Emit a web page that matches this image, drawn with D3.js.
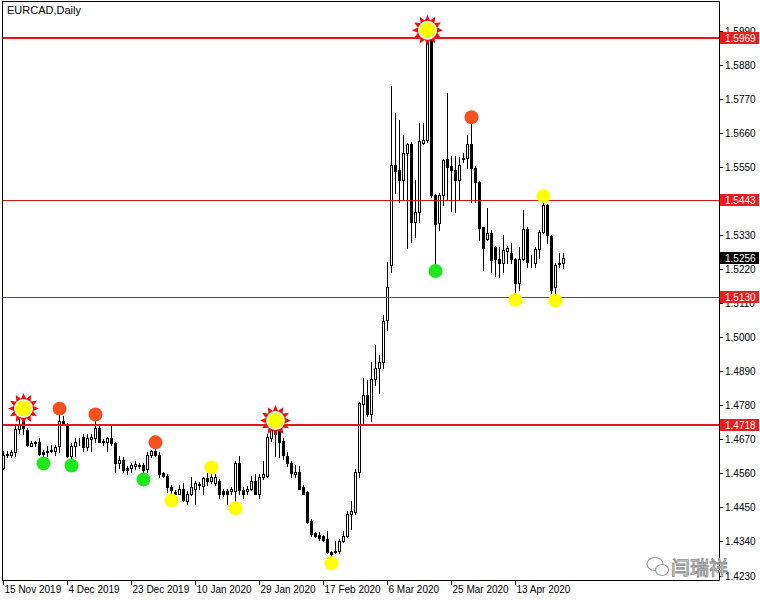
<!DOCTYPE html>
<html>
<head>
<meta charset="utf-8">
<script src="https://cdn.jsdelivr.net/npm/d3@7"></script>
<style>
  body { margin: 0; background: #fff; }
  svg { display: block; font-family: "Liberation Sans", Arial, sans-serif; }
</style>
</head>
<body>
<div id="chart"></div>
<script>
const symbolTitle = 'EURCAD,Daily';

// daily bars (index 0 = 15 Nov 2019)
const opens = [
  1.4579,1.4621,1.4618,1.4628,1.4702,1.4734,1.4699,1.4650,1.4660,1.4660,
  1.4628,1.4628,1.4631,1.4634,1.4647,1.4731,1.4718,1.4615,1.4647,1.4663,
  1.4679,1.4644,1.4670,1.4673,1.4708,1.4666,1.4663,1.4676,1.4657,1.4595,
  1.4602,1.4579,1.4576,1.4583,1.4586,1.4586,1.4573,1.4621,1.4631,1.4621,
  1.4560,1.4553,1.4515,1.4499,1.4495,1.4511,1.4470,1.4492,1.4511,1.4524,
  1.4518,1.4544,1.4534,1.4528,1.4534,1.4502,1.4502,1.4502,1.4502,1.4595,
  1.4505,1.4502,1.4511,1.4537,1.4495,1.4547,1.4553,1.4676,1.4686,1.4708,
  1.4666,1.4615,1.4595,1.4557,1.4566,1.4515,1.4499,1.4405,1.4366,1.4360,
  1.4357,1.4347,1.4305,1.4305,1.4308,1.4341,1.4357,1.4428,1.4434,1.4566,
  1.4783,1.4815,1.4753,1.4866,1.4902,1.4921,1.5057,1.5234,1.5557,1.5541,
  1.5508,1.5595,1.5624,1.5373,1.5405,1.5628,1.5637,1.5960,1.5460,1.5370,
  1.5460,1.5576,1.5553,1.5541,1.5508,1.5579,1.5579,1.5624,1.5547,1.5502,
  1.5357,1.5318,1.5337,1.5292,1.5253,1.5241,1.5279,1.5273,1.5253,1.5176,
  1.5253,1.5350,1.5247,1.5241,1.5286,1.5341,1.5428,1.5328,1.5163,1.5241,
  1.5241
];
const highs = [
  1.4631,1.4631,1.4637,1.4718,1.4750,1.4760,1.4708,1.4666,1.4666,1.4676,
  1.4637,1.4647,1.4653,1.4653,1.4750,1.4747,1.4724,1.4657,1.4676,1.4673,
  1.4686,1.4686,1.4686,1.4731,1.4715,1.4670,1.4679,1.4718,1.4660,1.4615,
  1.4612,1.4583,1.4595,1.4599,1.4595,1.4595,1.4628,1.4637,1.4641,1.4628,
  1.4566,1.4557,1.4521,1.4505,1.4524,1.4528,1.4502,1.4547,1.4534,1.4531,
  1.4550,1.4563,1.4560,1.4557,1.4541,1.4508,1.4508,1.4515,1.4599,1.4615,
  1.4515,1.4518,1.4553,1.4557,1.4557,1.4599,1.4686,1.4718,1.4721,1.4715,
  1.4676,1.4628,1.4599,1.4586,1.4583,1.4521,1.4502,1.4412,1.4370,1.4370,
  1.4360,1.4373,1.4308,1.4341,1.4347,1.4373,1.4437,1.4470,1.4573,1.4792,
  1.4870,1.4863,1.4921,1.4976,1.4944,1.5073,1.5244,1.5812,1.5724,1.5702,
  1.5653,1.5628,1.5631,1.5508,1.5692,1.5692,1.5983,1.5966,1.5463,1.5466,
  1.5576,1.5789,1.5586,1.5586,1.5582,1.5595,1.5653,1.5692,1.5553,1.5505,
  1.5357,1.5418,1.5347,1.5295,1.5292,1.5331,1.5295,1.5305,1.5256,1.5292,
  1.5412,1.5357,1.5266,1.5292,1.5347,1.5437,1.5431,1.5331,1.5241,1.5273,
  1.5273
];
const lows = [
  1.4573,1.4612,1.4612,1.4615,1.4689,1.4686,1.4647,1.4647,1.4650,1.4621,
  1.4615,1.4615,1.4628,1.4621,1.4628,1.4715,1.4612,1.4608,1.4615,1.4653,
  1.4631,1.4637,1.4631,1.4663,1.4660,1.4653,1.4631,1.4653,1.4566,1.4579,
  1.4566,1.4557,1.4566,1.4573,1.4576,1.4563,1.4566,1.4612,1.4615,1.4547,
  1.4547,1.4499,1.4495,1.4489,1.4492,1.4470,1.4460,1.4489,1.4460,1.4508,
  1.4495,1.4521,1.4528,1.4524,1.4479,1.4486,1.4460,1.4492,1.4470,1.4492,
  1.4479,1.4492,1.4505,1.4492,1.4479,1.4541,1.4550,1.4666,1.4615,1.4612,
  1.4605,1.4583,1.4550,1.4550,1.4508,1.4492,1.4399,1.4357,1.4353,1.4344,
  1.4341,1.4302,1.4292,1.4302,1.4302,1.4337,1.4353,1.4379,1.4428,1.4547,
  1.4724,1.4747,1.4731,1.4847,1.4821,1.4902,1.5024,1.5212,1.5466,1.5437,
  1.5444,1.5289,1.5308,1.5324,1.5373,1.5624,1.5631,1.5453,1.5237,1.5347,
  1.5428,1.5444,1.5408,1.5405,1.5444,1.5566,1.5547,1.5437,1.5437,1.5315,
  1.5218,1.5315,1.5212,1.5199,1.5195,1.5212,1.5241,1.5241,1.5144,1.5153,
  1.5250,1.5228,1.5228,1.5228,1.5257,1.5337,1.5305,1.5144,1.5141,1.5228,
  1.5224
];
const closes = [
  1.4621,1.4624,1.4628,1.4705,1.4721,1.4708,1.4653,1.4657,1.4657,1.4624,
  1.4624,1.4631,1.4637,1.4644,1.4728,1.4721,1.4615,1.4647,1.4663,1.4660,
  1.4644,1.4676,1.4679,1.4708,1.4663,1.4660,1.4676,1.4657,1.4595,1.4602,
  1.4570,1.4570,1.4586,1.4592,1.4584,1.4570,1.4621,1.4631,1.4621,1.4557,
  1.4553,1.4515,1.4505,1.4492,1.4511,1.4473,1.4495,1.4515,1.4528,1.4526,
  1.4544,1.4537,1.4547,1.4547,1.4495,1.4495,1.4495,1.4508,1.4595,1.4505,
  1.4495,1.4511,1.4537,1.4495,1.4547,1.4557,1.4679,1.4708,1.4712,1.4663,
  1.4618,1.4595,1.4560,1.4566,1.4511,1.4495,1.4402,1.4363,1.4357,1.4350,
  1.4344,1.4305,1.4299,1.4308,1.4341,1.4357,1.4428,1.4437,1.4563,1.4786,
  1.4815,1.4753,1.4866,1.4902,1.4921,1.5053,1.5163,1.5557,1.5537,1.5508,
  1.5595,1.5624,1.5373,1.5405,1.5634,1.5637,1.5960,1.5460,1.5366,1.5460,
  1.5573,1.5550,1.5541,1.5508,1.5557,1.5577,1.5624,1.5547,1.5502,1.5353,
  1.5289,1.5337,1.5250,1.5253,1.5241,1.5283,1.5289,1.5253,1.5176,1.5253,
  1.5350,1.5244,1.5245,1.5286,1.5341,1.5428,1.5331,1.5153,1.5234,1.5237,
  1.5256
];

// time axis labels and the bar each one sits on
const dateLabels = ['15 Nov 2019', '4 Dec 2019', '23 Dec 2019', '10 Jan 2020', '29 Jan 2020',
  '17 Feb 2020', '6 Mar 2020', '25 Mar 2020', '13 Apr 2020'];
const dateLabelBars = [0, 16, 32, 48, 64, 80, 96, 112, 128];

const priceTicks = [1.4230, 1.4340, 1.4450, 1.4560, 1.4670, 1.4780, 1.4890, 1.5000,
  1.5110, 1.5220, 1.5330, 1.5440, 1.5550, 1.5660, 1.5770, 1.5880, 1.5990];

// horizontal levels
const majorLevels = [1.5969, 1.4718];
const minorLevels = [1.5443, 1.5130];
const lastPrice = 1.5256;

// signal markers (bar indexes)
const sunBars = [5, 68, 106];
const orangeHighBars = [14, 23, 38, 117];
const greenLowBars = [10, 17, 35, 108];
const yellowHighBars = [52, 135];
const yellowLowBars = [42, 58, 82, 128, 138];

const watermark = '闫瑞祥';

// ---- drawing
const W = 760, H = 600;
const frame = { left: 3, top: 2, right: 719, bottom: 581 };

const bars = opens.map((o, i) => ({ i, o, h: highs[i], l: lows[i], c: closes[i] }));

const svg = d3.select('#chart').append('svg')
  .attr('width', W).attr('height', H);

svg.append('rect').attr('width', W).attr('height', H).attr('fill', '#fff');

const x = d3.scaleLinear().domain([0, bars.length - 1]).range([3.5, 3.5 + 4 * (bars.length - 1)]);
const y = d3.scaleLinear().domain([1.4230, 1.5969]).range([575.5, 37.5]);
const snap = v => Math.round(v) + 0.5;

svg.append('clipPath').attr('id', 'plotClip')
  .append('rect')
  .attr('x', frame.left).attr('y', frame.top)
  .attr('width', frame.right - frame.left).attr('height', frame.bottom - frame.top);

const plot = svg.append('g').attr('clip-path', 'url(#plotClip)');

// candles
const candle = plot.append('g').selectAll('g')
  .data(bars)
  .enter().append('g');

candle.append('line')
  .attr('x1', d => x(d.i)).attr('x2', d => x(d.i))
  .attr('y1', d => Math.round(y(d.h))).attr('y2', d => Math.round(y(d.l)) + 1)
  .attr('stroke', '#000').attr('stroke-width', 1);

candle.append('rect')
  .attr('x', d => x(d.i) - 1)
  .attr('width', 2)
  .attr('y', d => snap(y(Math.max(d.o, d.c))))
  .attr('height', d => Math.max(0, snap(y(Math.min(d.o, d.c))) - snap(y(Math.max(d.o, d.c)))))
  .attr('fill', d => d.c >= d.o ? '#fff' : '#000')
  .attr('stroke', '#000').attr('stroke-width', 1);

// level lines
plot.selectAll('.level-major')
  .data(majorLevels)
  .enter().append('line')
  .attr('class', 'level-major')
  .attr('x1', frame.left).attr('x2', frame.right)
  .attr('y1', d => Math.round(y(d))).attr('y2', d => Math.round(y(d)))
  .attr('stroke', '#e8141a').attr('stroke-width', 2);

plot.selectAll('.level-minor')
  .data(minorLevels)
  .enter().append('line')
  .attr('class', 'level-minor')
  .attr('x1', frame.left).attr('x2', frame.right)
  .attr('y1', d => snap(y(d))).attr('y2', d => snap(y(d)))
  .attr('stroke', '#d01818').attr('stroke-width', 1);

// markers
const circleMarks = [
  ...orangeHighBars.map(i => ({ i, cy: y(highs[i]) - 6, fill: '#f4511e' })),
  ...greenLowBars.map(i => ({ i, cy: y(lows[i]) + 7, fill: '#1ee81e' })),
  ...yellowHighBars.map(i => ({ i, cy: y(highs[i]) - 6, fill: '#ffff00' })),
  ...yellowLowBars.map(i => ({ i, cy: y(lows[i]) + 7, fill: '#ffff00' })),
];

plot.selectAll('.mark')
  .data(circleMarks)
  .enter().append('circle')
  .attr('class', 'mark')
  .attr('cx', d => x(d.i)).attr('cy', d => d.cy)
  .attr('r', 7)
  .attr('fill', d => d.fill);

const starPoints = (n, rOut, rIn) => d3.range(n * 2).map(k => {
  const a = Math.PI * k / n - Math.PI / 2;
  const r = k % 2 === 0 ? rOut : rIn;
  return [r * Math.cos(a), r * Math.sin(a)];
});

const sun = plot.selectAll('.sun')
  .data(sunBars)
  .enter().append('g')
  .attr('class', 'sun')
  .attr('transform', i => `translate(${x(i)},${y(highs[i]) - 3})`);

sun.append('polygon')
  .attr('points', starPoints(12, 15.5, 10).map(p => p.join(',')).join(' '))
  .attr('fill', '#ee1111');
sun.append('circle').attr('r', 9.5).attr('fill', '#fff');
sun.append('circle').attr('r', 8).attr('fill', '#ffff00');

// frame
svg.append('rect')
  .attr('x', frame.left - 0.5).attr('y', frame.top - 0.5)
  .attr('width', frame.right - frame.left + 1).attr('height', frame.bottom - frame.top)
  .attr('fill', 'none').attr('stroke', '#000').attr('stroke-width', 1);

// title
svg.append('text')
  .attr('x', 7).attr('y', 14)
  .attr('font-size', '11px')
  .text(symbolTitle);

// price axis
const priceAxis = svg.append('g');
priceAxis.selectAll('line')
  .data(priceTicks)
  .enter().append('line')
  .attr('x1', frame.right + 0.5).attr('x2', frame.right + 4)
  .attr('y1', d => snap(y(d))).attr('y2', d => snap(y(d)))
  .attr('stroke', '#000');
priceAxis.selectAll('text')
  .data(priceTicks)
  .enter().append('text')
  .attr('x', frame.right + 6)
  .attr('y', d => y(d) + 4)
  .attr('font-size', '10px')
  .text(d => d.toFixed(4));

// level tags on the price axis
const tags = [
  ...majorLevels.map(v => ({ v, bg: '#ec1c1c' })),
  ...minorLevels.map(v => ({ v, bg: '#ec1c1c' })),
  { v: lastPrice, bg: '#000' },
];
const tag = svg.selectAll('.tag')
  .data(tags)
  .enter().append('g')
  .attr('class', 'tag')
  .attr('transform', d => `translate(${frame.right + 1},${Math.round(y(d.v))})`);
tag.append('rect')
  .attr('x', 0).attr('y', -6)
  .attr('width', 39).attr('height', 12)
  .attr('fill', d => d.bg);
tag.append('text')
  .attr('x', 5).attr('y', 4)
  .attr('font-size', '10px')
  .attr('fill', '#fff')
  .text(d => d.v.toFixed(4));

// time axis
const timeAxis = svg.append('g');
timeAxis.selectAll('line')
  .data(dateLabelBars)
  .enter().append('line')
  .attr('x1', d => x(d)).attr('x2', d => x(d))
  .attr('y1', frame.bottom).attr('y2', frame.bottom + 4)
  .attr('stroke', '#000');
timeAxis.selectAll('text')
  .data(dateLabels)
  .enter().append('text')
  .attr('x', (d, k) => x(dateLabelBars[k]) + 1)
  .attr('y', 593)
  .attr('font-size', '10px')
  .text(d => d);

// watermark (wechat-style logo + name)
const wm = svg.append('g').attr('transform', 'translate(655,566)');
wm.append('ellipse').attr('cx', 0).attr('cy', -2).attr('rx', 8).attr('ry', 6.5)
  .attr('fill', '#fff').attr('stroke', '#9a9a9a').attr('stroke-width', 1.2);
wm.append('ellipse').attr('cx', 7).attr('cy', 4).attr('rx', 6.5).attr('ry', 5.5)
  .attr('fill', '#fff').attr('stroke', '#9a9a9a').attr('stroke-width', 1.2);
wm.append('text')
  .attr('x', 16).attr('y', 9)
  .attr('font-family', '"Noto Sans CJK SC", sans-serif')
  .attr('font-size', '19px')
  .attr('fill', '#fff').attr('stroke', '#8c8c8c').attr('stroke-width', 0.9)
  .text(watermark);
</script>
</body>
</html>
